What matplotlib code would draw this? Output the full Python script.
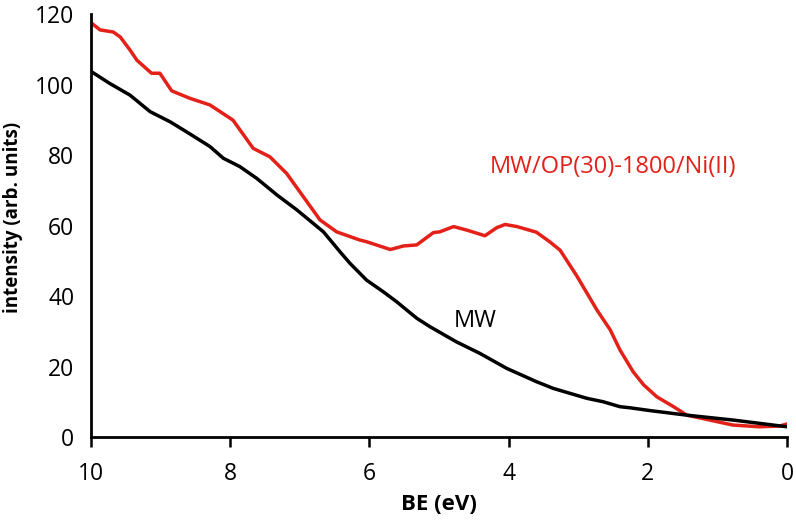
import matplotlib
matplotlib.use("Agg")
import matplotlib.pyplot as plt

# Red curve: MW/OP(30)-1800/Ni(II)
red_be = [9.99, 9.87, 9.68, 9.58, 9.44, 9.34, 9.13, 9.01, 8.84, 8.58, 8.29, 7.96,
          7.80, 7.67, 7.43, 7.19, 6.95, 6.71, 6.47, 6.14, 6.04, 5.70, 5.51, 5.32, 5.08,
          4.99, 4.79, 4.60, 4.34, 4.17, 4.05, 3.88, 3.60, 3.41, 3.26, 3.02, 2.73,
          2.54, 2.40, 2.21, 2.06, 1.87, 1.63, 1.44, 1.25, 0.78, 0.40, 0.11, 0.0]
red_int = [117.4, 115.5, 114.9, 113.5, 109.8, 106.9, 103.2, 103.2, 98.2, 96.1, 94.2, 89.9,
           85.5, 81.9, 79.5, 74.8, 68.2, 61.6, 58.2, 55.9, 55.4, 53.2, 54.2, 54.5, 58.0,
           58.2, 59.7, 58.7, 57.1, 59.4, 60.3, 59.7, 58.1, 55.4, 53.0, 45.7, 36.0,
           30.4, 24.7, 18.5, 14.8, 11.4, 8.6, 6.2, 5.4, 3.4, 2.9, 3.1, 3.7]

# Black curve: MW
mw_be = [9.99, 9.73, 9.44, 9.15, 8.86, 8.58, 8.29, 8.10, 7.86, 7.62, 7.33, 7.04,
         6.66, 6.42, 6.28, 6.04, 5.80, 5.61, 5.32, 5.13, 4.75, 4.41, 4.03, 3.60,
         3.36, 3.12, 2.88, 2.64, 2.40, 2.26, 1.97, 1.44, 0.77, 0.0]
mw_int = [103.6, 100.3, 97.0, 92.3, 89.4, 86.0, 82.4, 79.1, 76.7, 73.4, 68.7, 64.4,
          58.2, 52.5, 49.3, 44.5, 41.2, 38.4, 33.7, 31.3, 27.0, 23.7, 19.5, 15.7,
          13.8, 12.4, 11.0, 10.0, 8.6, 8.3, 7.5, 6.2, 4.8, 2.9]

x_ticks = [10, 8, 6, 4, 2, 0]
y_ticks = [0, 20, 40, 60, 80, 100, 120]

plt.rcParams['font.family'] = ['Open Sans', 'DejaVu Sans']

fig = plt.figure(figsize=(7.96, 5.2), dpi=100)
ax = fig.add_axes([0.1143, 0.1596, 0.8744, 0.8134])

ax.plot(mw_be, mw_int, color='black', lw=2.5, zorder=3,
        solid_joinstyle='round', solid_capstyle='round')
ax.plot(red_be, red_int, color='#e32119', lw=2.5, zorder=2,
        solid_joinstyle='round', solid_capstyle='round')

ax.set_xlim(10, 0)
ax.set_ylim(0, 120)
ax.set_xticks(x_ticks)
ax.set_yticks(y_ticks)
ax.tick_params(axis='x', direction='out', length=7, width=1.8, labelsize=16.5, pad=11)
ax.tick_params(axis='y', length=0, labelsize=16.5, pad=12)

for s in ['top', 'right']:
    ax.spines[s].set_visible(False)
for s in ['left', 'bottom']:
    ax.spines[s].set_linewidth(2)

ax.set_xlabel('BE (eV)', fontsize=16, fontweight='bold', labelpad=6)
ax.set_ylabel('intensity (arb. units)', fontsize=13.5, fontweight='bold', labelpad=6)
ax.yaxis.set_label_coords(-0.097, 0.52)

ax.text(4.48, 33, 'MW', fontsize=17, color='black', ha='center', va='center')
ax.text(2.5, 76.6, 'MW/OP(30)-1800/Ni(II)', fontsize=17, color='#e32119',
        ha='center', va='center')

fig.savefig('out.png', dpi=100)
